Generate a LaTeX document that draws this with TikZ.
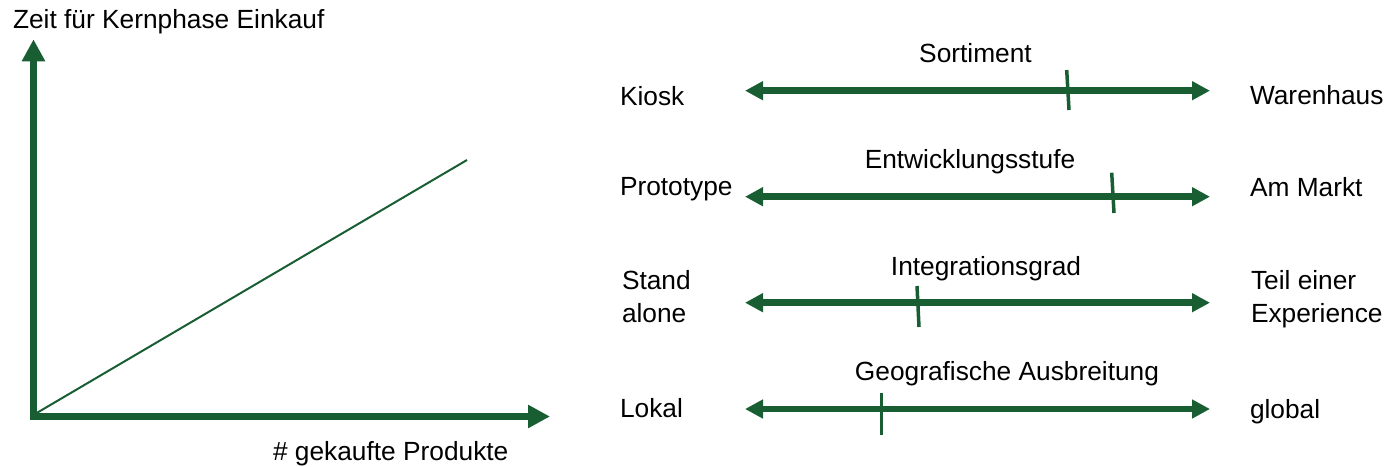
\documentclass[tikz,border=0pt]{standalone}
\usepackage{fontspec}
\setmainfont{Liberation Sans}
\usetikzlibrary{arrows.meta}
\definecolor{dgreen}{RGB}{24,94,50}
\tikzset{
  lbl/.style={inner sep=0pt, outer sep=0pt, font=\fontsize{26.3}{33}\selectfont, text=black},
  axisline/.style={draw=dgreen, line width=7pt, -{Triangle[length=22pt,width=22pt]}, color=dgreen},
  scaleline/.style={draw=dgreen, line width=6.5pt, {Triangle[length=18pt,width=18pt]}-{Triangle[length=18pt,width=18pt]}, color=dgreen},
  tickline/.style={draw=dgreen, line width=3.5pt},
  trendline/.style={draw=dgreen, line width=2pt}
}
\begin{document}
\begin{tikzpicture}[x=1pt,y=-1pt]
\useasboundingbox (0,0) rectangle (1386,466);
% left chart
\coordinate (vb) at (33.5,420);
\coordinate (vt) at (33.5,39.3);
\coordinate (hb) at (30,416.5);
\coordinate (ht) at (550,416.5);
\coordinate (ds) at (35,414);
\coordinate (de) at (467,160);
\draw[trendline] (ds) -- (de);
\draw[axisline] (vb) -- (vt);
\draw[axisline] (hb) -- (ht);
\node[lbl, anchor=base west] (ylab) at (13,28.5) {Zeit für Kernphase Einkauf};
\node[lbl, anchor=base west] (xlab) at (273,460) {\# gekaufte Produkte};
% scales
\coordinate (a1l) at (745,90.7);  \coordinate (a1r) at (1210,90.7);
\coordinate (a2l) at (745,196.7); \coordinate (a2r) at (1210,196.7);
\coordinate (a3l) at (745,302.7); \coordinate (a3r) at (1210,302.7);
\coordinate (a4l) at (745,409);   \coordinate (a4r) at (1210,409);
\draw[scaleline] (a1l) -- (a1r);
\draw[scaleline] (a2l) -- (a2r);
\draw[scaleline] (a3l) -- (a3r);
\draw[scaleline] (a4l) -- (a4r);
\coordinate (t1a) at (1066.7,70);   \coordinate (t1b) at (1069,110);
\coordinate (t2a) at (1111.7,172.7); \coordinate (t2b) at (1114,213);
\coordinate (t3a) at (917,286);     \coordinate (t3b) at (919,327);
\coordinate (t4a) at (881.7,392.7); \coordinate (t4b) at (881.7,435);
\draw[tickline] (t1a) -- (t1b);
\draw[tickline] (t2a) -- (t2b);
\draw[tickline] (t3a) -- (t3b);
\draw[tickline] (t4a) -- (t4b);
% titles
\node[lbl, anchor=base] (s1) at (975.5,62) {Sortiment};
\node[lbl, anchor=base] (s2) at (970,168) {Entwicklungsstufe};
\node[lbl, anchor=base] (s3) at (986,275) {Integrationsgrad};
\node[lbl, anchor=base] (s4) at (1007,380) {Geografische Ausbreitung};
% left labels
\node[lbl, anchor=base west] (l1) at (620,105) {Kiosk};
\node[lbl, anchor=base west] (l2) at (620,195.5) {Prototype};
\node[lbl, anchor=base west, align=left] (l3) at (622,322) {Stand\\alone};
\node[lbl, anchor=base west] (l4) at (620,417.5) {Lokal};
% right labels
\node[lbl, anchor=base west] (r1) at (1250,104.5) {Warenhaus};
\node[lbl, anchor=base west] (r2) at (1250,196) {Am Markt};
\node[lbl, anchor=base west, align=left] (r3) at (1251,322) {Teil einer\\Experience};
\node[lbl, anchor=base west] (r4) at (1250,418) {global};
\end{tikzpicture}
\end{document}
